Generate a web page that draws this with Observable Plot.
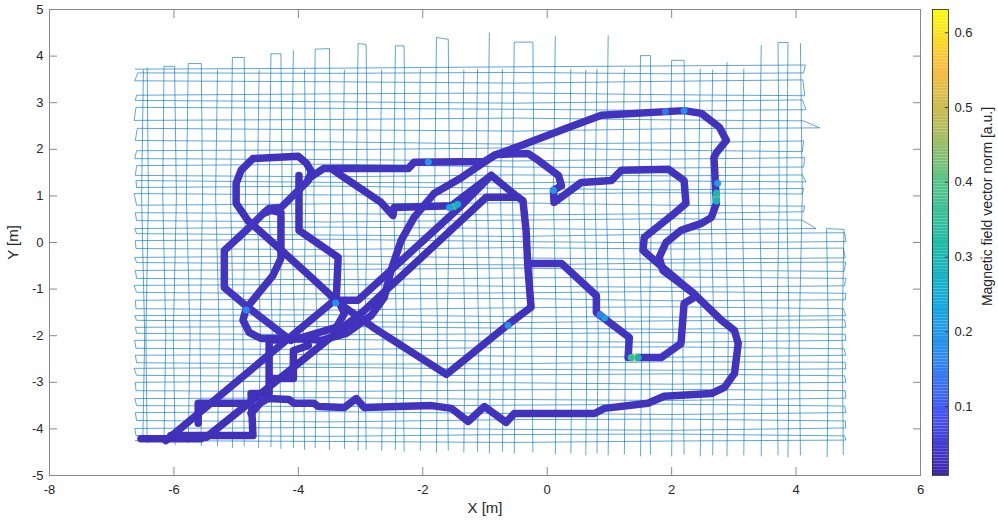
<!DOCTYPE html>
<html><head><meta charset="utf-8">
<script src="https://cdn.jsdelivr.net/npm/d3@7"></script>
<script src="https://cdn.jsdelivr.net/npm/@observablehq/plot@0.6"></script>
<style>
body{margin:0;background:#fff;}
#wrap{position:relative;width:998px;height:530px;font-family:"Liberation Sans",Arial,sans-serif;}
#wrap svg{position:absolute;top:0;}
</style></head><body><div id="wrap"></div>
<script>
// ---------- axes / colorbar ----------
const xTicks = [-8, -6, -4, -2, 0, 2, 4, 6];
const yTicks = [-5, -4, -3, -2, -1, 0, 1, 2, 3, 4, 5];
const cbTicks = [0.1, 0.2, 0.3, 0.4, 0.5, 0.6];
const cbDomain = [0.008, 0.631];
const cbLabel = "Magnetic field vector norm [a.u.]";
const parulaStops = ["#3e26a8", "#4751f1", "#2f88f0", "#13abdb", "#1ebba6", "#55c48a", "#b5bc58", "#fbbc3d", "#f9fb0e"];

// ---------- survey grid (thin lines) ----------
// horizontal: [xStart, yStart, y@-3.5, y@-0.5, y@2.0, xEnd, yEnd]
const hStationsX = [-3.5, -0.5, 2.0];
const hLines = [
[-6.62,3.72,3.74,3.77,3.79,4.15,3.81],
[-6.58,3.64,3.63,3.65,3.62,4.12,3.64],
[-6.63,3.47,3.45,3.42,3.46,4.11,3.49],
[-6.60,3.16,3.19,3.21,3.17,4.14,3.15],
[-6.62,3.05,3.02,2.99,3.03,4.10,3.06],
[-6.61,2.90,2.88,2.86,2.83,4.16,2.85],
[-6.64,2.62,2.64,2.67,2.63,4.12,2.61],
[-6.59,2.45,2.42,2.39,2.44,4.38,2.46],
[-6.62,2.19,2.16,2.11,2.14,4.12,2.18],
[-6.60,1.97,1.99,2.03,1.98,4.10,1.95],
[-6.63,1.80,1.78,1.75,1.79,4.14,1.82],
[-6.60,1.65,1.68,1.62,1.60,4.12,1.62],
[-6.62,1.44,1.41,1.45,1.43,4.10,1.45],
[-6.61,1.33,1.29,1.28,1.32,4.16,1.30],
[-6.60,1.18,1.21,1.16,1.13,4.12,1.16],
[-6.64,1.05,1.02,1.04,1.07,4.10,1.04],
[-6.60,0.80,0.83,0.85,0.80,4.14,0.78],
[-6.62,0.64,0.62,0.59,0.62,4.12,0.66],
[-6.60,0.47,0.44,0.48,0.51,4.10,0.48],
[-6.63,0.30,0.33,0.30,0.27,4.32,0.30],
[-6.60,0.19,0.16,0.13,0.18,4.78,0.21],
[-6.62,0.04,0.07,0.02,-0.01,4.80,0.02],
[-6.61,-0.13,-0.15,-0.11,-0.14,4.76,-0.12],
[-6.63,-0.32,-0.29,-0.33,-0.36,4.79,-0.33],
[-6.60,-0.43,-0.46,-0.48,-0.44,4.80,-0.42],
[-6.62,-0.60,-0.58,-0.55,-0.59,4.77,-0.62],
[-6.60,-0.77,-0.80,-0.76,-0.74,4.80,-0.77],
[-6.64,-0.92,-0.90,-0.94,-0.96,4.78,-0.93],
[-6.60,-1.07,-1.10,-1.08,-1.05,4.80,-1.09],
[-6.62,-1.24,-1.21,-1.20,-1.25,4.79,-1.23],
[-6.61,-1.42,-1.45,-1.40,-1.38,4.76,-1.42],
[-6.63,-1.57,-1.55,-1.59,-1.60,4.80,-1.57],
[-6.60,-1.67,-1.70,-1.72,-1.68,4.78,-1.66],
[-6.62,-1.82,-1.80,-1.84,-1.86,4.80,-1.82],
[-6.60,-1.95,-1.98,-1.96,-1.93,4.79,-1.97],
[-6.63,-2.10,-2.08,-2.12,-2.14,4.80,-2.10],
[-6.61,-2.27,-2.30,-2.25,-2.24,4.77,-2.28],
[-6.62,-2.42,-2.40,-2.44,-2.46,4.80,-2.42],
[-6.60,-2.58,-2.61,-2.60,-2.56,4.79,-2.57],
[-6.64,-2.70,-2.68,-2.72,-2.74,4.80,-2.71],
[-6.60,-2.85,-2.88,-2.84,-2.82,4.78,-2.86],
[-6.62,-3.00,-2.97,-3.01,-3.04,4.80,-3.00],
[-6.61,-3.18,-3.20,-3.16,-3.15,4.79,-3.18],
[-6.63,-3.35,-3.33,-3.37,-3.39,4.80,-3.34],
[-6.60,-3.50,-3.52,-3.49,-3.47,4.78,-3.51],
[-6.62,-3.65,-3.63,-3.67,-3.69,4.80,-3.65],
[-6.60,-3.82,-3.85,-3.80,-3.79,4.79,-3.83],
[-6.63,-3.99,-3.97,-4.01,-4.03,4.80,-3.98],
[-6.61,-4.14,-4.16,-4.12,-4.11,4.78,-4.15],
[-6.62,-4.25,-4.27,-4.29,-4.26,4.80,-4.24]
];
// vertical: [run, yBottom, xBottom, x@-2, x@1, yTop, xTop]
const vStationsY = [-2.0, 1.0];
const vLines = [
[1,-4.26,-6.50,-6.47,-6.52,3.70,-6.49],
[2,-4.30,-6.43,-6.45,-6.41,3.74,-6.43],
[3,-4.28,-6.16,-6.13,-6.18,3.78,-6.16],
[3,-4.34,-5.98,-6.01,-5.96,3.78,-5.99],
[4,-4.30,-5.77,-5.74,-5.80,3.84,-5.77],
[4,-4.36,-5.56,-5.58,-5.54,3.84,-5.56],
[5,-4.36,-5.30,-5.27,-5.33,3.70,-5.30],
[6,-4.40,-5.06,-5.04,-5.09,3.97,-5.06],
[6,-4.36,-4.87,-4.89,-4.85,3.97,-4.87],
[7,-4.40,-4.64,-4.61,-4.66,3.70,-4.63],
[8,-4.38,-4.44,-4.42,-4.47,4.05,-4.44],
[8,-4.42,-4.28,-4.30,-4.26,4.05,-4.28],
[9,-4.40,-4.08,-4.06,-4.11,4.12,-4.08],
[10,-4.44,-3.90,-3.92,-3.88,3.70,-3.90],
[11,-4.40,-3.73,-3.70,-3.75,4.15,-3.73],
[11,-4.44,-3.50,-3.52,-3.48,4.16,-3.50],
[12,-4.42,-3.26,-3.24,-3.29,3.70,-3.26],
[13,-4.46,-3.04,-3.02,-3.07,4.27,-3.04],
[13,-4.44,-2.91,-2.93,-2.89,4.25,-2.91],
[14,-4.46,-2.66,-2.64,-2.69,3.70,-2.66],
[15,-4.44,-2.44,-2.42,-2.47,4.22,-2.44],
[15,-4.48,-2.30,-2.32,-2.28,4.22,-2.30],
[16,-4.46,-2.04,-2.02,-2.07,3.72,-2.04],
[17,-4.50,-1.78,-1.76,-1.81,4.40,-1.78],
[17,-4.46,-1.59,-1.61,-1.57,4.36,-1.59],
[18,-4.50,-1.34,-1.32,-1.37,3.70,-1.34],
[19,-4.48,-1.12,-1.10,-1.15,3.72,-1.12],
[20,-4.52,-0.93,-0.91,-0.96,4.50,-0.93],
[21,-4.48,-0.72,-0.70,-0.75,3.72,-0.72],
[22,-4.52,-0.53,-0.51,-0.56,4.30,-0.53],
[22,-4.50,-0.23,-0.25,-0.21,4.30,-0.23],
[23,-4.54,0.13,0.15,0.10,4.42,0.13],
[24,-4.52,0.38,0.40,0.35,3.72,0.38],
[25,-4.56,0.62,0.64,0.59,3.70,0.62],
[26,-4.52,0.80,0.82,0.77,3.72,0.80],
[27,-4.56,0.98,1.00,0.95,4.44,0.98],
[28,-4.54,1.24,1.26,1.21,3.72,1.24],
[29,-4.58,1.50,1.52,1.47,4.01,1.50],
[29,-4.54,1.66,1.64,1.68,4.01,1.66],
[30,-4.58,2.00,2.02,1.97,3.91,2.00],
[30,-4.54,2.20,2.18,2.22,3.91,2.20],
[31,-4.58,2.46,2.48,2.43,3.72,2.46],
[32,-4.56,2.66,2.68,2.63,3.70,2.66],
[33,-4.58,2.89,2.91,2.86,3.86,2.89],
[34,-4.56,3.16,3.18,3.13,3.72,3.16],
[35,-4.58,3.44,3.46,3.41,4.23,3.44],
[36,-4.56,3.71,3.69,3.73,4.29,3.71],
[36,-4.60,3.87,3.89,3.85,4.29,3.87],
[37,-4.56,4.07,4.05,4.10,4.27,4.07],
[38,-4.60,4.50,4.52,4.50,0.30,4.49],
[38,-4.55,4.76,4.74,4.76,0.28,4.77]
];

// ---------- walked track (thick, coloured by field norm) ----------
const trackOuter = [[-4.76,-3.67],[-4.60,-3.43],[-4.49,-3.35],[-4.15,-3.37],[-4.07,-3.45],[-3.75,-3.45],[-3.68,-3.52],[-3.26,-3.54],[-3.07,-3.35],[-2.94,-3.54],[-1.86,-3.50],[-1.54,-3.56],[-1.27,-3.84],[-1.01,-3.52],[-0.66,-3.86],[-0.53,-3.67],[0.76,-3.67],[0.92,-3.56],[1.62,-3.45],[1.88,-3.30],[2.64,-3.24],[2.85,-3.11],[3.01,-2.81],[3.07,-2.17],[3.01,-1.89],[2.80,-1.67],[2.35,-1.09],[1.86,-0.60],[1.80,-0.32],[1.91,0.00],[2.15,0.26],[2.48,0.41],[2.64,0.54],[2.72,0.84],[2.68,1.82],[2.72,1.93],[2.88,2.19],[2.77,2.47],[2.48,2.77],[2.20,2.83],[0.87,2.73],[0.34,2.47],[-0.42,2.08],[-0.85,1.87],[-1.38,1.39],[-1.82,1.05],[-2.14,0.54],[-2.35,0.04],[-2.51,-0.60],[-2.62,-1.18],[-2.83,-1.57],[-3.23,-1.95],[-3.63,-2.10],[-4.00,-2.06],[-4.60,-2.06],[-4.79,-1.93],[-4.89,-1.67],[-4.84,-1.42],[-4.63,-1.07],[-4.41,-0.71],[-4.28,-0.34],[-4.28,0.64],[-4.44,0.69],[-4.53,0.64]];
const trackUpper = [[-3.84,1.37],[-3.59,1.59],[-2.23,1.59],[-2.14,1.72],[-1.01,1.74],[-0.82,1.89],[-0.31,1.91],[-0.14,1.76],[0.18,1.44],[0.23,1.22],[0.10,1.12],[0.11,0.86],[0.55,1.29],[1.03,1.33],[1.19,1.55],[1.95,1.57],[2.20,1.33],[2.23,0.84],[2.04,0.62],[1.56,0.11],[1.54,-0.17],[1.78,-0.45],[2.35,-1.09]];
const trackLoop = [[-3.83,1.37],[-3.79,1.52],[-3.87,1.70],[-4.00,1.85],[-4.73,1.80],[-4.92,1.55],[-5.00,1.27],[-5.00,0.84],[-4.81,0.47],[-4.32,-0.11],[-3.79,-0.75],[-3.34,-1.31],[-2.80,-1.82],[-1.62,-2.83],[-0.61,-1.74],[-0.26,-1.39],[-0.31,-0.54],[-0.34,0.26],[-0.39,0.90],[-0.47,0.97],[-0.90,1.44],[-1.54,0.79],[-2.46,0.75],[-2.48,0.58],[-2.67,0.86],[-3.26,1.39],[-3.45,1.57]];
const trackDiag1 = [[-6.13,-4.25],[-3.42,-1.24],[-3.04,-1.24],[-1.38,0.79],[-0.90,1.44]];
const trackDiag2 = [[-5.48,-4.18],[-2.94,-1.46],[-0.98,0.97],[-0.47,0.97]];
const trackBranch = [[-0.31,-0.45],[0.23,-0.45],[0.79,-1.14],[0.79,-1.50],[1.32,-2.04],[1.30,-2.47],[1.83,-2.47],[2.15,-2.17],[2.20,-1.31],[2.36,-1.18]];
const trackWest = [[-3.99,1.44],[-3.99,0.26],[-3.36,-0.32],[-3.39,-1.18]];
const trackPent = [[-3.84,1.33],[-4.28,0.75],[-4.47,0.73],[-4.55,0.64],[-4.76,0.36],[-5.19,-0.17],[-5.19,-0.97],[-4.81,-1.39],[-4.49,-1.72],[-4.12,-2.10]];
const trackBox = [[-4.47,-3.24],[-4.47,-2.10],[-3.87,-2.06],[-3.84,-2.21],[-4.08,-2.32],[-4.08,-2.92],[-4.47,-2.92]];
const trackKnot = [[-4.00,-2.06],[-3.39,-1.82],[-3.26,-1.52],[-3.36,-1.24]];
const trackStart = [[-6.53,-4.21],[-5.56,-4.21]];
const trackSouth = [[-6.05,-4.14],[-4.73,-4.14],[-4.76,-3.24],[-4.55,-3.24]];
const trackCorner = [[-5.61,-3.88],[-5.61,-3.45],[-4.76,-3.45]];
const trackLevels = [0.031, 0.034, 0.029, 0.032, 0.028, 0.034, 0.030, 0.035, 0.027, 0.030, 0.026, 0.028, 0.029];
// local highlights: [x, y, norm]
const spots = [
[1.40,-2.47,0.62],[1.35,-2.47,0.35],[1.46,-2.47,0.30],
[2.72,0.97,0.40],[2.72,1.06,0.30],[2.72,0.89,0.28],
[-1.50,0.77,0.36],[-1.44,0.82,0.25],[-1.57,0.75,0.22],
[-1.91,1.73,0.20],[2.74,1.27,0.20],[0.92,-1.62,0.22],[0.85,-1.55,0.15],
[-0.63,-1.78,0.18],[0.10,1.12,0.20],[2.20,2.83,0.17],[1.90,2.81,0.14],
[-4.84,-1.45,0.16],[-3.40,-1.30,0.18]
];

// ---------- build tables ----------
const survey = [];
hLines.forEach((L, i) => {
  const [x0, y0, ya, yb, yc, x1, y1] = L;
  const pts = [[x0, y0], [hStationsX[0], ya], [hStationsX[1], yb], [hStationsX[2], yc], [x1, y1]];
  if (i % 2) pts.reverse();
  pts.forEach(p => survey.push({x: p[0], y: p[1], run: "h"}));
});
d3.groups(vLines, d => d[0]).forEach(([id, lines]) => {
  lines.forEach((L, j) => {
    const [, yb, xb, xa, xc, yt, xt] = L;
    const xs = [xa, xc];
    const pts = [[xb, yb]];
    vStationsY.forEach((sy, k) => { if (sy > yb && sy < yt) pts.push([xs[k], sy]); });
    pts.push([xt, yt]);
    if (j % 2) pts.reverse();
    pts.forEach(p => survey.push({x: p[0], y: p[1], run: "v" + id}));
  });
});
const trackList = [trackOuter, trackUpper, trackLoop, trackDiag1, trackDiag2, trackBranch, trackWest, trackPent, trackBox, trackKnot, trackStart, trackSouth, trackCorner];
const track = [];
trackList.forEach((t, i) => t.forEach(p => track.push({x: p[0], y: p[1], id: i, v: trackLevels[i]})));
const spotRows = spots.map(s => ({x: s[0], y: s[1], v: s[2]}));

const parula = d3.piecewise(d3.interpolateRgb, parulaStops);
const colorScale = {type: "linear", domain: cbDomain, interpolate: parula};
const fontFam = "'Liberation Sans', Arial, Helvetica, sans-serif";
const ink = "#262626";
const fmt = d => String(d);

const main = Plot.plot({
  width: 998, height: 530,
  marginLeft: 49, marginRight: 78, marginTop: 9, marginBottom: 55,
  style: {fontFamily: fontFam, fontSize: "13px", color: ink, background: "transparent", overflow: "visible"},
  x: {domain: [-8, 6]},
  y: {domain: [-5, 5]},
  color: colorScale,
  marks: [
    Plot.line(survey, {x: "x", y: "y", z: "run", stroke: "#0072BD", strokeWidth: 0.7, strokeOpacity: 0.9}),
    Plot.line(track, {x: "x", y: "y", z: "id", stroke: "v", strokeWidth: 7.5, strokeLinecap: "round", strokeLinejoin: "round"}),
    Plot.dot(spotRows, {x: "x", y: "y", fill: "v", r: 3.5}),
    Plot.frame({stroke: "#8a8a8a"}),
    Plot.axisX({anchor: "bottom", ticks: xTicks, tickSize: -8, tickPadding: 17, tickFormat: fmt, stroke: "#8a8a8a", fill: ink, label: null}),
    Plot.axisX({anchor: "top", ticks: xTicks, tickSize: -8, tickFormat: () => "", stroke: "#8a8a8a", label: null}),
    Plot.axisY({anchor: "left", ticks: yTicks, tickSize: -8, tickPadding: 14, tickFormat: fmt, stroke: "#8a8a8a", fill: ink, label: null}),
    Plot.axisY({anchor: "right", ticks: yTicks, tickSize: -8, tickFormat: () => "", stroke: "#8a8a8a", label: null}),
    Plot.text(["X [m]"], {frameAnchor: "bottom", textAnchor: "middle", dy: 37, fontSize: 15, fill: ink}),
    Plot.text(["Y [m]"], {frameAnchor: "left", textAnchor: "middle", dx: -36, rotate: -90, fontSize: 15, fill: ink})
  ]
});

// colour bar
const nCells = 160;
const span = cbDomain[1] - cbDomain[0];
const cells = d3.range(nCells).map(i => ({lo: cbDomain[0] + span * i / nCells, hi: cbDomain[0] + span * (i + 1) / nCells}));
const bar = Plot.plot({
  width: 78, height: 530,
  marginLeft: 12, marginRight: 50, marginTop: 9, marginBottom: 55,
  style: {fontFamily: fontFam, fontSize: "13px", color: ink, background: "transparent", overflow: "visible"},
  x: {domain: [0, 1], axis: null},
  y: {domain: cbDomain, axis: null},
  color: colorScale,
  marks: [
    Plot.rect(cells, {x1: 0, x2: 1, y1: "lo", y2: "hi", fill: d => (d.lo + d.hi) / 2}),
    Plot.ruleY(cbTicks, {x1: 0.8, x2: 1, stroke: ink, strokeWidth: 0.8}),
    Plot.frame({stroke: ink, strokeWidth: 0.8}),
    Plot.axisY({anchor: "right", ticks: cbTicks, tickSize: 0, tickPadding: 6, tickFormat: d3.format(".1f"), fill: ink, label: null}),
    Plot.text([cbLabel], {frameAnchor: "right", textAnchor: "middle", dx: 39, dy: -36, rotate: -90, fontSize: 14, fill: ink})
  ]
});

const wrap = document.getElementById("wrap");
main.style.left = "0px";
bar.style.left = "920px";
wrap.appendChild(main);
wrap.appendChild(bar);
</script></body></html>
